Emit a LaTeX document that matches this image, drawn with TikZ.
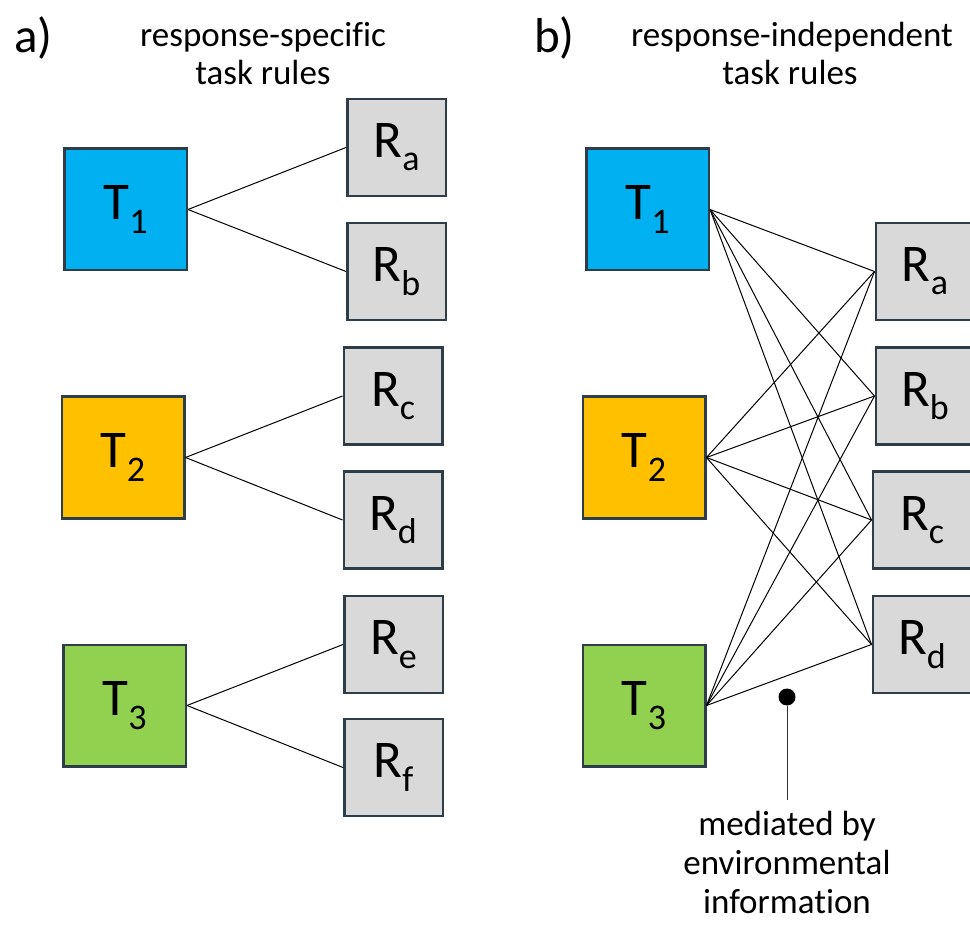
\documentclass[tikz,border=0pt]{standalone}
\usepackage{fontspec}
\setmainfont{Carlito}[Ligatures=NoCommon]
\definecolor{taskblue}{HTML}{00B0F0}
\definecolor{taskorange}{HTML}{FFC000}
\definecolor{taskgreen}{HTML}{92D050}
\definecolor{respgray}{HTML}{D9D9D9}
\definecolor{boxline}{HTML}{2E3D4A}
% label with a lowered subscript in the text font
\newcommand\sublab[2]{#1\raisebox{-0.25em}{\fontsize{36}{36}\selectfont #2}}
\begin{document}
\begin{tikzpicture}[x=1pt,y=-1pt,
  labelfont/.style={font=\fontsize{53}{53}\selectfont},
  taskbox/.style={draw=boxline, line width=2.5pt, minimum width=122.5pt,
    minimum height=121.5pt, inner sep=0pt, labelfont},
  respbox/.style={draw=boxline, line width=2.5pt, fill=respgray,
    minimum width=98.5pt, minimum height=97pt, inner sep=0pt, labelfont},
  link/.style={line width=1pt, black},
  heading/.style={font=\fontsize{35}{40}\selectfont, anchor=base, inner sep=0pt},
  panel/.style={font=\fontsize{49}{49}\selectfont, anchor=base west, inner sep=0pt}]
\useasboundingbox (0,0) rectangle (970,925);
\clip (0,0) rectangle (970,925);

% headings
\node[panel] (pa) at (14,53) {a)};
\node[heading] (ha1) at (263,47) {response-specific};
\node[heading] (ha2) at (263,85) {task rules};
\node[panel] (pb) at (534,53) {b)};
\node[heading] (hb1) at (792,47) {response-independent};
\node[heading] (hb2) at (790,85) {task rules};

% panel a: each task has its own responses
\node[taskbox, fill=taskblue]   (aT1) at (125.5,209.5) {\sublab{T}{1}};
\node[taskbox, fill=taskorange] (aT2) at (123,457.5) {\sublab{T}{2}};
\node[taskbox, fill=taskgreen]  (aT3) at (124.5,705.5) {\sublab{T}{3}};
\node[respbox] (aRa) at (396.5,147.5) {\sublab{R}{a}};
\node[respbox] (aRb) at (396.5,271.5) {\sublab{R}{b}};
\node[respbox] (aRc) at (393,396)     {\sublab{R}{c}};
\node[respbox] (aRd) at (393,520)     {\sublab{R}{d}};
\node[respbox] (aRe) at (393.5,644.5) {\sublab{R}{e}};
\node[respbox] (aRf) at (393.5,767.5) {\sublab{R}{f}};
\draw[link] (aT1.east) -- (aRa.west);
\draw[link] (aT1.east) -- (aRb.west);
\draw[link] (aT2.east) -- (aRc.west);
\draw[link] (aT2.east) -- (aRd.west);
\draw[link] (aT3.east) -- (aRe.west);
\draw[link] (aT3.east) -- (aRf.west);

% panel b: every task connects to every response
\node[taskbox, fill=taskblue]   (bT1) at (647.5,209.5) {\sublab{T}{1}};
\node[taskbox, fill=taskorange] (bT2) at (644,457.5) {\sublab{T}{2}};
\node[taskbox, fill=taskgreen]  (bT3) at (644,705.5) {\sublab{T}{3}};
\node[respbox] (bRa) at (925,271.5) {\sublab{R}{a}};
\node[respbox] (bRb) at (925,396)   {\sublab{R}{b}};
\node[respbox] (bRc) at (922,520)   {\sublab{R}{c}};
\node[respbox] (bRd) at (922,644.5) {\sublab{R}{d}};
\foreach \t in {bT1,bT2,bT3}
  \foreach \r in {bRa,bRb,bRc,bRd}
    \draw[link] (\t.east) -- (\r.west);

% annotation pin
\node[circle, fill=black, inner sep=0pt, minimum size=17pt] (pin) at (787,697) {};
\coordinate (pinfoot) at (787,800);
\draw[line width=1pt, black!80] (pin) -- (pinfoot);
\node[heading] (m1) at (787,835) {mediated by};
\node[heading] (m2) at (787,874) {environmental};
\node[heading] (m3) at (787,913) {information};
\end{tikzpicture}
\end{document}
